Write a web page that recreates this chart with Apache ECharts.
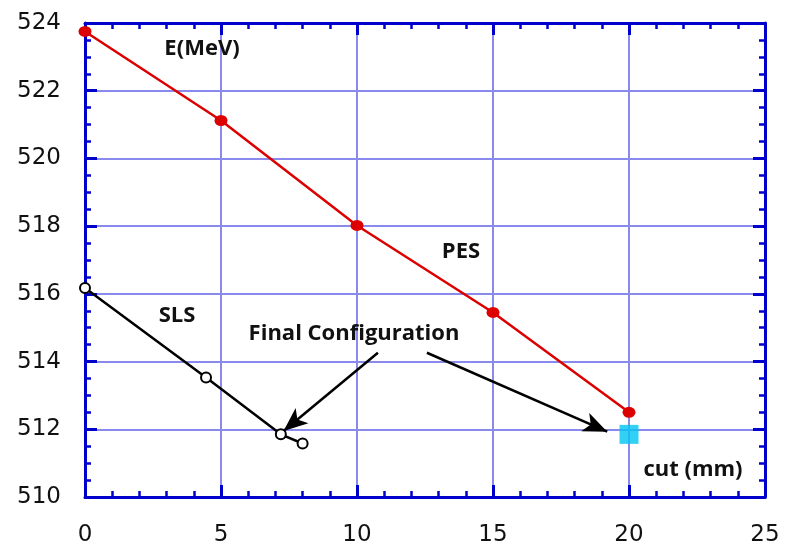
<!DOCTYPE html>
<html>
<head>
<meta charset="utf-8">
<script src="https://cdn.jsdelivr.net/npm/echarts@6/dist/echarts.min.js"></script>
<style>
html,body{margin:0;padding:0;background:#fff;}
#c{width:787px;height:554px;}
</style>
</head>
<body>
<div id="c"></div>
<script>
var xTicks = [0, 5, 10, 15, 20, 25];
var yTicks = [510, 512, 514, 516, 518, 520, 522, 524];
var pesX = [0, 5, 10, 15, 20];
var pesY = [523.75, 521.12, 518.02, 515.45, 512.5];
var slsX = [0, 4.45, 7.2, 8.0];
var slsY = [516.17, 513.53, 511.85, 511.58];
var finalX = [20];
var finalY = [511.85];
var arrowFromX = [10.77, 12.57];
var arrowFromY = [514.26, 514.26];
var arrowToX = [7.3, 19.2];
var arrowToY = [511.95, 511.93];

function zip(a, b) { return a.map(function (v, i) { return [v, b[i]]; }); }

var axisColor = '#0000cc';
var gridColor = '#8a8aee';
var labelFont = 'DejaVu Sans, Liberation Sans, sans-serif';
var noteFont = 'Open Sans, DejaVu Sans, sans-serif';

function xAxisDef(pos, showLabel) {
  return {
    type: 'value', position: pos, min: xTicks[0], max: xTicks[xTicks.length - 1], interval: 5,
    axisLine: { show: true, onZero: false, lineStyle: { color: axisColor, width: 3 } },
    axisTick: { show: true, inside: true, length: 12, lineStyle: { color: axisColor, width: 3 } },
    minorTick: { show: true, splitNumber: 5, length: 6, lineStyle: { color: axisColor, width: 2.5 } },
    splitLine: { show: showLabel, lineStyle: { color: gridColor, width: 2 } },
    axisLabel: { show: showLabel, color: '#111', fontSize: 23, fontFamily: labelFont, margin: 27 }
  };
}
function yAxisDef(pos, showLabel) {
  return {
    type: 'value', position: pos, min: yTicks[0], max: yTicks[yTicks.length - 1], interval: 2,
    axisLine: { show: true, onZero: false, lineStyle: { color: axisColor, width: 3 } },
    axisTick: { show: true, inside: true, length: 12, lineStyle: { color: axisColor, width: 3 } },
    minorTick: { show: true, splitNumber: 4, length: 6, lineStyle: { color: axisColor, width: 2.5 } },
    splitLine: { show: showLabel, lineStyle: { color: gridColor, width: 2 } },
    axisLabel: { show: showLabel, color: '#111', fontSize: 23, fontFamily: labelFont, margin: 24 }
  };
}

var arrows = arrowFromX.map(function (x, i) {
  return [{ coord: [x, arrowFromY[i]] }, { coord: [arrowToX[i], arrowToY[i]] }];
});

function note(text, cx, cy) {
  return {
    type: 'text', x: cx, y: cy, z: 10,
    style: { text: text, font: 'bold 22px ' + noteFont, fill: '#111',
             align: 'center', verticalAlign: 'middle', textAlign: 'center', textVerticalAlign: 'middle' }
  };
}

var chart = echarts.init(document.getElementById('c'));
chart.setOption({
  animation: false,
  backgroundColor: '#fff',
  grid: { left: 85, right: 22, top: 23, bottom: 57 },
  xAxis: [xAxisDef('bottom', true), xAxisDef('top', false)],
  yAxis: [yAxisDef('left', true), yAxisDef('right', false)],
  series: [
    {
      type: 'line', data: zip(pesX, pesY), xAxisIndex: 0, yAxisIndex: 0,
      symbol: 'circle', symbolSize: [13, 11],
      lineStyle: { color: '#dd0000', width: 2.5 },
      itemStyle: { color: '#dd0000' }, z: 5
    },
    {
      type: 'line', data: zip(slsX, slsY), xAxisIndex: 0, yAxisIndex: 0,
      symbol: 'emptyCircle', symbolSize: 10,
      lineStyle: { color: '#000', width: 2.5 },
      itemStyle: { color: '#000', borderWidth: 2, borderColor: '#000' }, z: 5,
      markLine: {
        silent: true, symbol: ['none', 'arrow'], symbolSize: [15, 24],
        label: { show: false },
        lineStyle: { color: '#000', width: 2.5, type: 'solid' },
        data: arrows
      }
    },
    {
      type: 'scatter', data: zip(finalX, finalY), xAxisIndex: 0, yAxisIndex: 0,
      symbol: 'rect', symbolSize: 19, itemStyle: { color: '#00c4f4' }, z: 6
    }
  ],
  graphic: [
    note('E(MeV)', 202, 49),
    note('PES', 461, 252),
    note('SLS', 177, 316),
    note('Final Configuration', 354, 334),
    note('cut (mm)', 693, 470)
  ]
});
</script>
</body>
</html>
